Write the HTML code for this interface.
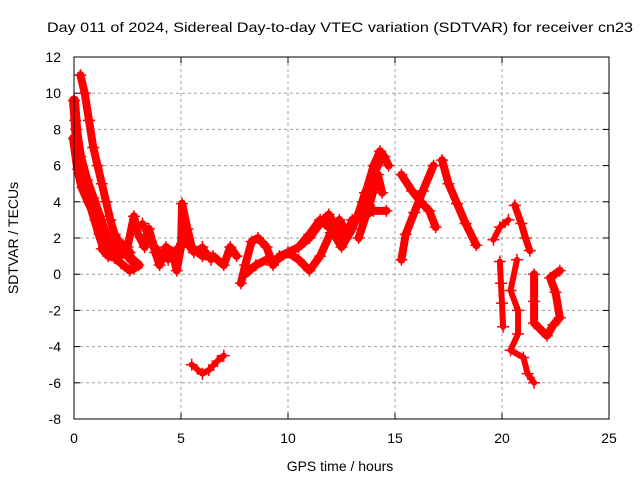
<!DOCTYPE html>
<html><head><meta charset="utf-8"><style>
body{margin:0;background:#fff}
svg{display:block;font-family:"Liberation Sans",sans-serif}
</style></head><body>
<svg id="chart" width="640" height="480" viewBox="0 0 640 480">
<rect width="640" height="480" fill="#fff"/>
<text x="340" y="32" text-anchor="middle" font-size="14" textLength="586" lengthAdjust="spacingAndGlyphs">Day 011 of 2024, Sidereal Day-to-day VTEC variation (SDTVAR) for receiver cn23</text>
<text transform="translate(18,238) rotate(-90)" text-anchor="middle" font-size="14">SDTVAR / TECUs</text>
<text x="340" y="471" text-anchor="middle" font-size="14">GPS time / hours</text>
<g id="grid"></g><g id="axes"></g><g id="marks"></g>
<rect x="74" y="57" width="535" height="362" fill="none" stroke="#000" stroke-width="1"/>
</svg>
<script>
const xTicks=[0,5,10,15,20,25];
const yTicks=[-8,-6,-4,-2,0,2,4,6,8,10,12];
const seriesA=[[0.3,11],[0.5,10],[0.7,8.5],[0.9,7],[1.1,6],[1.3,5],[1.5,4],[1.7,3],[1.9,2.2],[2.1,1.8],[2.4,1.5]];
const seriesB=[[0,9.6],[0.1,8],[0.2,6.5],[0.4,5.5],[0.6,4.5],[0.8,3.8],[1.0,3],[1.2,2.2],[1.4,1.5],[1.6,1.2],[2,1.0],[2.4,1.2],[2.7,0.8],[3,0.5]];
const seriesC=[[0,7.5],[0.2,5.8],[0.4,4.8],[0.7,4],[1,3.2],[1.2,2.5],[1.5,2],[1.8,1.5],[2.2,1.2]];
const seriesC2=[[0.05,8.5],[0.3,6.5],[0.6,5.2],[0.9,4.2],[1.2,3.2],[1.4,2.5],[1.6,1.8],[1.9,1.4],[2.3,1.6],[2.6,1.2]];
const seriesC3=[[1.3,1.4],[1.6,1],[1.9,0.9],[2.2,0.6],[2.6,0.2],[2.8,0.3]];
const seriesD=[[2.5,1.5],[2.8,3.2],[3.0,2.2],[3.3,1.5],[3.5,2.5],[3.8,1.2],[4.0,0.5],[4.3,1.5],[4.6,1.2],[4.8,0.2],[5,1.5],[5.05,3.9],[5.3,2.5],[5.5,1.5],[6,1],[6.5,1],[7,0.5],[7.3,1.5],[7.6,1]];
const seriesD2=[[3.2,2.8],[3.6,1.8],[4,1.2],[4.4,0.8],[4.8,1.4],[5.2,1.8],[5.6,1.2],[6,1.5],[6.4,0.8]];
const seriesE=[[5.5,-5],[6,-5.5],[6.3,-5.3],[6.7,-4.8],[7,-4.5]];
const seriesF=[[7.8,-0.5],[8,0.5],[8.3,1.8],[8.6,2],[9,1.5],[9.3,0.5],[9.6,1],[10,1.2],[10.5,1.5],[11,2.2],[11.5,3],[12,2.5],[12.5,1.5],[13,2.5],[13.5,4],[14,6],[14.3,6.8],[14.5,6.5],[14.7,6]];
const seriesG=[[8,0],[8.5,0.5],[9,0.8],[9.5,0.8],[10,1.2],[10.5,0.8],[11,0.2],[11.5,1],[12,2.3],[12.4,3],[12.8,2.2],[13.2,3],[13.6,4.5],[14,5.5],[14.4,6.5]];
const seriesH=[[10.5,1.5],[11,2],[11.5,2.8],[11.9,3.3],[12.3,2.5],[12.7,2],[13,3],[13.5,3.2],[14,3.5],[14.6,3.5]];
const seriesI=[[13.3,2],[13.8,3.8],[14.2,5.5],[14.4,4.5]];
const seriesJ=[[15.3,5.5],[15.8,4.6],[16.2,4],[16.6,3.5],[16.9,2.6]];
const seriesK=[[15.3,0.8],[15.5,2.2],[15.9,3.4],[16.3,4.6],[16.8,6]];
const seriesL=[[17.2,6.3],[17.5,5],[17.9,3.9],[18.3,2.8],[18.8,1.6]];
const seriesM=[[19.6,1.9],[19.9,2.6],[20.3,3.0]];
const seriesN=[[20.6,3.8],[20.9,2.8],[21.1,2],[21.3,1.3]];
const seriesO=[[19.9,0.7],[19.95,-0.5],[20,-1.6],[20.05,-2.9]];
const seriesP=[[20.7,0.8],[20.4,-0.9],[20.75,-2],[20.75,-3.3],[20.4,-4.2],[21,-4.6],[21.2,-5.5],[21.5,-6]];
const seriesQ=[[21.5,0],[21.5,-1.5],[21.5,-2.7],[22.1,-3.4],[22.4,-2.8],[22.7,-2.4],[22.5,-1],[22.25,-0.2],[22.7,0.2]];
const allSeries=[seriesA,seriesB,seriesC,seriesC2,seriesC3,seriesD,seriesD2,seriesE,seriesF,seriesG,seriesH,seriesI,seriesJ,seriesK,seriesL,seriesM,seriesN,seriesO,seriesP,seriesQ];
const widths=[8,10,10,9,8,8,7,6,8,8,8,8,8,8,8,6,7,6,6,8];
const NS='http://www.w3.org/2000/svg';
function sx(t){return 74+t*535/25;}
function sy(v){return 57+(12-v)*362/20;}
const grid=document.getElementById('grid'),axes=document.getElementById('axes'),marks=document.getElementById('marks');
function mk(tag,attrs,parent){const e=document.createElementNS(NS,tag);for(const k in attrs)e.setAttribute(k,attrs[k]);parent.appendChild(e);return e;}
xTicks.forEach(t=>{
 if(t>0&&t<25){const g=mk('line',{x1:sx(t),x2:sx(t),y1:57,y2:419,stroke:'#a0a0a0','stroke-dasharray':'3,3'},grid);
 
 }
 mk('line',{x1:sx(t),x2:sx(t),y1:419,y2:413,stroke:'#000'},axes);
 mk('line',{x1:sx(t),x2:sx(t),y1:57,y2:63,stroke:'#000'},axes);
 const l=mk('text',{x:sx(t),y:443,'text-anchor':'middle','font-size':'14'},axes);l.textContent=t;
 
 
});
yTicks.forEach(v=>{
 if(v>-8&&v<12){const g=mk('line',{x1:74,x2:609,y1:sy(v),y2:sy(v),stroke:'#a0a0a0','stroke-dasharray':'3,3'},grid);
 
 }
 mk('line',{x1:74,x2:80,y1:sy(v),y2:sy(v),stroke:'#000'},axes);
 mk('line',{x1:603,x2:609,y1:sy(v),y2:sy(v),stroke:'#000'},axes);
 const l=mk('text',{x:61,y:sy(v)+5,'text-anchor':'end','font-size':'14'},axes);l.textContent=v;
 
 
});
allSeries.forEach((s,i)=>{
 const p=mk('polyline',{points:s.map(d=>sx(d[0])+','+sy(d[1])).join(' '),fill:'none',stroke:'#f00','stroke-width':widths[i],'stroke-linejoin':'round','stroke-linecap':'round'},marks);
 
 
 s.forEach(d=>{const x=sx(d[0]),y=sy(d[1]);
  const m=mk('path',{d:`M${x-6},${y}H${x+6}M${x},${y-6}V${y+6}`,stroke:'#f00','stroke-width':1.5},marks);
  
  
 });
});
</script>
</body></html>
